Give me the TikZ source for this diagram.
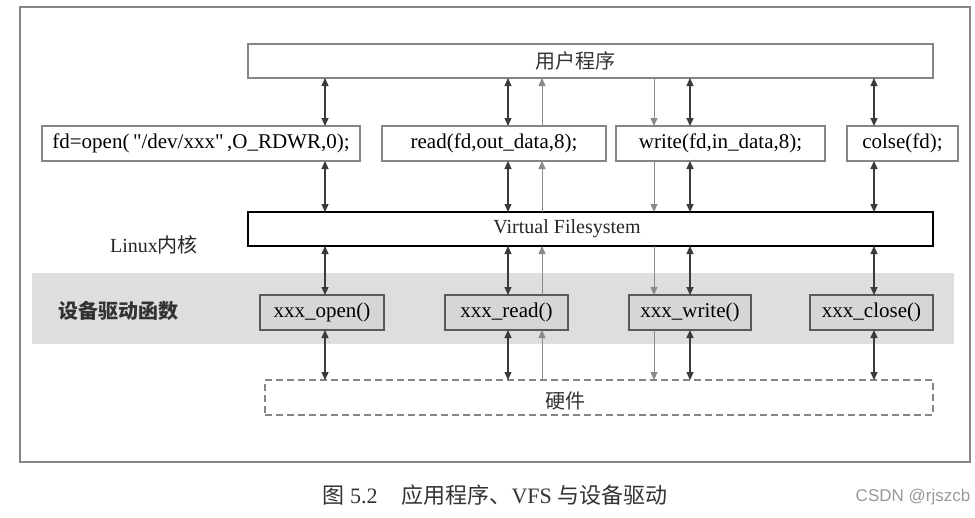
\documentclass[tikz,border=0pt]{standalone}
\usepackage{fontspec}
\setmainfont{Liberation Serif}
\newfontfamily\cjk{Noto Sans CJK SC}
\usetikzlibrary{arrows.meta}
\definecolor{bandgray}{HTML}{DEDEDE}
\definecolor{boxgray}{HTML}{D6D6D6}
\definecolor{linegray}{HTML}{858585}
\definecolor{arrdark}{HTML}{3A3A3A}
\definecolor{arrlight}{HTML}{8A8A8A}
\begin{document}
\begin{tikzpicture}[x=1pt,y=-1pt,
  every node/.style={inner sep=0pt,outer sep=0pt},
  fnbox/.style={draw=linegray,line width=1.2pt,minimum height=35pt,font=\fontsize{21}{24}\selectfont},
  bigbox/.style={draw=linegray,line width=1.5pt,minimum width=685pt,minimum height=34pt},
  drvbox/.style={draw=black!65,fill=boxgray,line width=1.2pt,minimum height=35pt,font=\fontsize{21}{24}\selectfont},
  cjklbl/.style={font=\cjk\fontsize{20}{24}\selectfont,text=black!80},
  dbl/.style={draw=arrdark,line width=1.2pt,{Triangle[width=7pt,length=8pt]}-{Triangle[width=7pt,length=8pt]}},
  upar/.style={draw=arrlight,line width=1pt,-{Triangle[width=7pt,length=8pt]}},
  dnar/.style={draw=arrlight,line width=1pt,-{Triangle[width=7pt,length=8pt]}}
]
\useasboundingbox (0,0) rectangle (975,517);
\fill[white] (0,0) rectangle (975,517);
% outer frame
\draw[linegray,line width=1.5pt] (20,7) rectangle (970,462);
% grey band
\fill[bandgray] (32,273) rectangle (954,344);

% user program
\node[bigbox] (user) at (590.5,61) {};
\node[cjklbl] (userlbl) at (575,61) {用户程序};

% function row
\node[fnbox,minimum width=318pt] (fopen) at (201,143.5) {fd=open(\,\textquotedbl/dev/xxx\textquotedbl\,,O\_RDWR,0);};
\node[fnbox,minimum width=224pt] (fread) at (494,143.5) {read(fd,out\_data,8);};
\node[fnbox,minimum width=209pt] (fwrite) at (720.5,143.5) {write(fd,in\_data,8);};
\node[fnbox,minimum width=111pt] (fclose) at (902.5,143.5) {colse(fd);};

% VFS
\node[bigbox,draw=black,line width=2pt] (vfs) at (590.5,229) {};
\node[font=\fontsize{20}{24}\selectfont,text=black!85] (vfslbl) at (567,229) {Virtual Filesystem};

% side labels
\node[text=black!85] (linux) at (154,245) {\fontsize{20}{24}\selectfont Linux{\cjk 内核}};
\node[cjklbl,font=\cjk\bfseries\fontsize{20}{24}\selectfont] (drvlbl) at (118,311) {设备驱动函数};

% driver boxes
\node[drvbox,minimum width=124pt] (dopen) at (322,312.5) {xxx\_open()};
\node[drvbox,minimum width=123pt] (dread) at (506.5,312.5) {xxx\_read()};
\node[drvbox,minimum width=122pt] (dwrite) at (690,312.5) {xxx\_write()};
\node[drvbox,minimum width=123pt] (dclose) at (871.5,312.5) {xxx\_close()};

% hardware
\node[draw=linegray,line width=1.2pt,dash pattern=on 7pt off 4pt,minimum width=668pt,minimum height=35pt] (hw) at (599,397.5) {};
\node[cjklbl] (hwlbl) at (565,401) {硬件};

% arrow columns
\coordinate (a1) at (325,0);
\coordinate (a2) at (508,0);
\coordinate (a3) at (542,0);
\coordinate (a4) at (654,0);
\coordinate (a5) at (690,0);
\coordinate (a6) at (874,0);

% open column
\draw[dbl] (a1 |- user.south) -- (a1 |- fopen.north);
\draw[dbl] (a1 |- fopen.south) -- (a1 |- vfs.north);
\draw[dbl] (a1 |- vfs.south) -- (a1 |- dopen.north);
\draw[dbl] (a1 |- dopen.south) -- (a1 |- hw.north);
% read column
\draw[dbl] (a2 |- user.south) -- (a2 |- fread.north);
\draw[dbl] (a2 |- fread.south) -- (a2 |- vfs.north);
\draw[dbl] (a2 |- vfs.south) -- (a2 |- dread.north);
\draw[dbl] (a2 |- dread.south) -- (a2 |- hw.north);
\draw[upar] (a3 |- fread.north) -- (a3 |- user.south);
\draw[upar] (a3 |- vfs.north) -- (a3 |- fread.south);
\draw[upar] (a3 |- dread.north) -- (a3 |- vfs.south);
\draw[upar] (a3 |- hw.north) -- (a3 |- dread.south);
% write column
\draw[dnar] (a4 |- user.south) -- (a4 |- fwrite.north);
\draw[dnar] (a4 |- fwrite.south) -- (a4 |- vfs.north);
\draw[dnar] (a4 |- vfs.south) -- (a4 |- dwrite.north);
\draw[dnar] (a4 |- dwrite.south) -- (a4 |- hw.north);
\draw[dbl] (a5 |- user.south) -- (a5 |- fwrite.north);
\draw[dbl] (a5 |- fwrite.south) -- (a5 |- vfs.north);
\draw[dbl] (a5 |- vfs.south) -- (a5 |- dwrite.north);
\draw[dbl] (a5 |- dwrite.south) -- (a5 |- hw.north);
% close column
\draw[dbl] (a6 |- user.south) -- (a6 |- fclose.north);
\draw[dbl] (a6 |- fclose.south) -- (a6 |- vfs.north);
\draw[dbl] (a6 |- vfs.south) -- (a6 |- dclose.north);
\draw[dbl] (a6 |- dclose.south) -- (a6 |- hw.north);

% caption
\node[text=black!80,font=\fontsize{22}{26}\selectfont] (cap) at (495,495) {{\cjk 图} 5.2\hspace{24pt}{\cjk 应用程序、}VFS {\cjk 与设备驱动}};
\node[text=black!40,font=\sffamily\fontsize{17}{20}\selectfont] (csdn) at (913,497) {\fontspec{Liberation Sans}CSDN @rjszcb};
\end{tikzpicture}
\end{document}
